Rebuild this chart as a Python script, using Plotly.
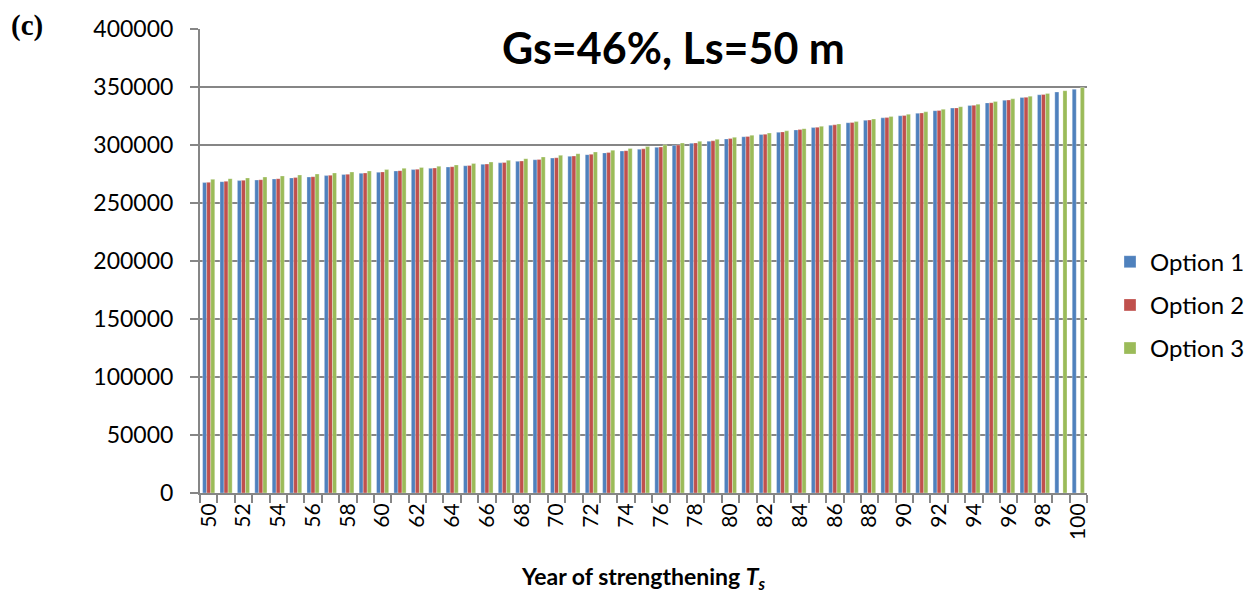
import plotly.graph_objects as go

years = [str(y) for y in range(50, 101)]
tick_labels = [y if int(y) % 2 == 0 else "" for y in years]

option1 = [267600, 268400, 269300, 269800, 270700, 271600, 272400, 273600, 274500, 275600,
           276500, 277600, 278800, 279900, 281000, 282100, 283300, 284600, 285900, 287300,
           288700, 290200, 291700, 293200, 294800, 296400, 298000, 299700, 301500, 303300,
           305200, 307100, 309000, 311000, 313000, 315000, 317100, 319200, 321300, 323400,
           325200, 327400, 329600, 331800, 334000, 336300, 338600, 340900, 343300, 345700,
           348100]
option2 = [267800, 268700, 269600, 270100, 271000, 271900, 272700, 273900, 274800, 275900,
           276800, 277900, 279100, 280200, 281300, 282400, 283600, 284900, 286200, 287600,
           289000, 290500, 292000, 293500, 295100, 296700, 298300, 300000, 301800, 303600,
           305500, 307400, 309300, 311300, 313300, 315300, 317400, 319400, 321500, 323600,
           325400, 327600, 329800, 332000, 334200, 336500, 338800, 341100, 343500, None,
           None]
option3 = [270400, 271000, 271600, 272400, 273300, 274100, 275000, 275900, 276700, 277600,
           278800, 279900, 280700, 281700, 282800, 284000, 285300, 286800, 288200, 289700,
           291100, 292500, 294000, 295500, 297000, 298600, 300200, 301700, 303200, 304900,
           306600, 308400, 310300, 312200, 314100, 316100, 318100, 320200, 322400, 324500,
           326500, 328600, 330800, 333000, 335200, 337500, 339800, 342100, 344500, 346800,
           349500]

names = ["Option 1", "Option 2", "Option 3"]
colors = ["#4F81BD", "#C0504D", "#9BBB59"]
series = [option1, option2, option3]

W, H = 1250, 589
ML, MR, MT, MB = 192, 171, 21, 104
PW, PH = W - ML - MR, H - MT - MB

fig = go.Figure()
for nm, col, vals in zip(names, colors, series):
    fig.add_trace(go.Bar(x=years, y=vals, name=nm, legendgroup=nm,
                         marker=dict(color=col, line=dict(color="rgba(255,255,255,0.6)", width=0.5))))

grid = "#868686"
fig.update_layout(
    width=W, height=H,
    margin=dict(l=ML, r=MR, t=MT, b=MB, autoexpand=False),
    paper_bgcolor="white", plot_bgcolor="white",
    barmode="group", bargap=0.3, bargroupgap=0,
    font=dict(family="Lato", size=21, color="black"),
    showlegend=True,
    legend=dict(x=(1102 - ML) / PW, y=0.405, xanchor="left", yanchor="middle",
                font=dict(family="Lato", size=24), tracegroupgap=9,
                traceorder="grouped", itemwidth=30, bgcolor="rgba(0,0,0,0)"),
    xaxis=dict(type="category", tickmode="array", tickvals=years, ticktext=tick_labels,
               tickangle=-90, tickson="boundaries", ticks="outside", ticklen=8,
               tickcolor=grid, tickwidth=2, showline=True, linecolor=grid, linewidth=2,
               showgrid=False, tickfont=dict(family="Lato", size=21), automargin=False,
               title=dict(text="<b>Year of strengthening <i>T<sub>s</sub></i></b>",
                          font=dict(family="Lato", size=23), standoff=30)),
    yaxis=dict(range=[0, 400000], tickvals=[0, 50000, 100000, 150000, 200000, 250000,
                                             300000, 350000, 400000],
               tickformat="d", showgrid=True, gridcolor=grid, gridwidth=2,
               showline=True, linecolor=grid, linewidth=2, ticks="outside", ticklen=8,
               tickcolor=grid, tickwidth=2, zeroline=False, ticklabelstandoff=12,
               automargin=False, tickfont=dict(family="Lato", size=23)),
    annotations=[
        dict(text="<b>Gs=46%, Ls=50 m</b>", xref="paper", yref="paper", x=(665 - ML) / PW,
             y=1 - (39 - MT) / PH, xanchor="center", yanchor="middle", showarrow=False,
             font=dict(family="Lato", size=43, color="black")),
        dict(text="<b>(c)</b>", xref="paper", yref="paper", x=(2 - ML) / PW,
             y=1 + MT / PH, xanchor="left", yanchor="top", borderpad=0,
             showarrow=False, font=dict(family="Liberation Serif", size=29, color="black")),
    ],
)

fig.write_html("out.html")
